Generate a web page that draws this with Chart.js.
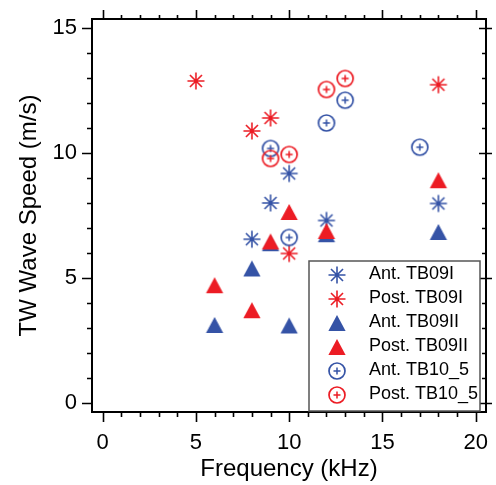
<!DOCTYPE html>
<html>
<head>
<meta charset="utf-8">
<script src="https://cdn.jsdelivr.net/npm/chart.js@4.4.0/dist/chart.umd.min.js"></script>
<style>
  html, body { margin: 0; padding: 0; background: #fff; }
  #wrap { width: 496px; height: 485px; }
</style>
</head>
<body>
<div id="wrap"><canvas id="speedChart" width="496" height="485"></canvas></div>
<script>
// tick labels
const xTicks = [0, 5, 10, 15, 20];
const yTicks = [0, 5, 10, 15];

// series names (legend order)
const seriesNames = ['Ant. TB09I', 'Post. TB09I', 'Ant. TB09II', 'Post. TB09II', 'Ant. TB10_5', 'Post. TB10_5'];

// values: frequency (kHz) and speed (m/s)
const freqAntTB09I = [8, 9, 10, 12, 18];
const speedAntTB09I = [6.56, 8.01, 9.19, 7.31, 7.99];
const freqPostTB09I = [5, 8, 9, 10, 18];
const speedPostTB09I = [12.89, 10.89, 11.41, 5.99, 12.74];
const freqAntTB09II = [6, 8, 9, 10, 12, 18];
const speedAntTB09II = [3.13, 5.39, 6.40, 3.11, 6.76, 6.85];
const freqPostTB09II = [6, 8, 9, 10, 12, 18];
const speedPostTB09II = [4.72, 3.72, 6.47, 7.65, 6.89, 8.92];
const freqAntTB10_5 = [9, 10, 12, 13, 17];
const speedAntTB10_5 = [10.19, 6.63, 11.21, 12.12, 10.24];
const freqPostTB10_5 = [9, 10, 12, 13];
const speedPostTB10_5 = [9.79, 9.95, 12.55, 12.99];

const BLUE = '#3553a6';
const RED = '#ec1c24';
const FONT = '"Liberation Sans", Arial, sans-serif';

function makeMarker(kind, color) {
    const c = document.createElement('canvas');
    c.width = 20;
    c.height = 20;
    const g = c.getContext('2d');
    g.strokeStyle = color;
    g.fillStyle = color;
    if (kind === 'star') {
        g.lineWidth = 1.6;
        g.beginPath();
        for (let i = 0; i < 4; i++) {
            const a = i * Math.PI / 4;
            const dx = Math.cos(a) * 8.5, dy = Math.sin(a) * 8.5;
            g.moveTo(10 - dx, 10 - dy);
            g.lineTo(10 + dx, 10 + dy);
        }
        g.stroke();
    } else if (kind === 'triangle') {
        g.beginPath();
        g.moveTo(10, 2);
        g.lineTo(18.6, 18);
        g.lineTo(1.4, 18);
        g.closePath();
        g.fill();
    } else {
        g.lineWidth = 1.7;
        g.beginPath();
        g.arc(10, 10, 8, 0, 2 * Math.PI);
        g.stroke();
        g.lineWidth = 1.5;
        g.beginPath();
        g.moveTo(10, 6.5); g.lineTo(10, 13.5);
        g.moveTo(6.5, 10); g.lineTo(13.5, 10);
        g.stroke();
    }
    return c;
}

const markers = [
    makeMarker('star', BLUE), makeMarker('star', RED),
    makeMarker('triangle', BLUE), makeMarker('triangle', RED),
    makeMarker('circle', BLUE), makeMarker('circle', RED)
];

const freqs = [freqAntTB09I, freqPostTB09I, freqAntTB09II, freqPostTB09II, freqAntTB10_5, freqPostTB10_5];
const speeds = [speedAntTB09I, speedPostTB09I, speedAntTB09II, speedPostTB09II, speedAntTB10_5, speedPostTB10_5];

const datasets = seriesNames.map((name, i) => ({
    label: name,
    data: freqs[i].map((f, j) => ({ x: f, y: speeds[i][j] })),
    pointStyle: markers[i],
    pointRadius: 9,
    showLine: false,
    order: seriesNames.length - i   // later series drawn on top
}));

// frame, igor-style ticks and boxed legend
const framePlugin = {
    id: 'frame',
    afterDraw(chart) {
        const ctx = chart.ctx;
        const a = chart.chartArea;
        const sx = chart.scales.x, sy = chart.scales.y;
        ctx.save();
        ctx.strokeStyle = '#000';
        ctx.lineWidth = 2;
        ctx.strokeRect(a.left, a.top, a.right - a.left, a.bottom - a.top);

        ctx.lineWidth = 1.6;
        ctx.beginPath();
        for (let v = 0; v <= 20; v++) {
            const major = xTicks.includes(v);
            const px = Math.round(sx.getPixelForValue(v)) + 0.5;
            ctx.moveTo(px, a.bottom); ctx.lineTo(px, a.bottom + (major ? 10 : 5));
            ctx.moveTo(px, a.top); ctx.lineTo(px, a.top - (major ? 9 : 4));
        }
        for (let v = 0; v <= 15; v++) {
            const major = yTicks.includes(v);
            const py = Math.round(sy.getPixelForValue(v)) + 0.5;
            ctx.moveTo(a.left, py); ctx.lineTo(a.left - (major ? 10 : 5), py);
            if (major) {
                ctx.moveTo(a.right - 7, py); ctx.lineTo(a.right + 6, py);
            } else {
                ctx.moveTo(a.right, py); ctx.lineTo(a.right - 4, py);
            }
        }
        ctx.stroke();

        // legend box
        const lx = 309, ly = 261, lw = a.right - 6 - lx, lh = a.bottom - 1 - ly;
        ctx.fillStyle = '#fff';
        ctx.fillRect(lx, ly, lw, lh);
        ctx.strokeStyle = '#555';
        ctx.lineWidth = 1.5;
        ctx.strokeRect(lx, ly, lw, lh);
        ctx.font = '18px ' + FONT;
        ctx.fillStyle = '#000';
        ctx.textBaseline = 'middle';
        ctx.textAlign = 'left';
        seriesNames.forEach((name, i) => {
            const cy = 275 + i * 24;
            ctx.drawImage(markers[i], 337 - 10, cy - 10);
            ctx.fillText(name, 369, cy - 1);
        });
        ctx.restore();
    }
};

function noPad(s) {
    s.paddingLeft = 0;
    s.paddingRight = 0;
    s.paddingTop = 0;
    s.paddingBottom = 0;
}

new Chart(document.getElementById('speedChart'), {
    type: 'scatter',
    data: { datasets: datasets },
    options: {
        responsive: false,
        animation: false,
        layout: { padding: { top: 19, right: 7, left: 0, bottom: 0 } },
        plugins: { legend: { display: false }, tooltip: { enabled: false } },
        scales: {
            x: {
                type: 'linear',
                min: -0.57,
                max: 20.55,
                afterBuildTicks: s => { s.ticks = xTicks.map(v => ({ value: v })); },
                afterFit: s => { s.height = 73; noPad(s); },
                grid: { display: false, drawTicks: false },
                border: { display: false },
                ticks: { color: '#000', font: { size: 22, family: FONT }, padding: 18, maxRotation: 0 },
                title: { display: true, text: 'Frequency (kHz)', color: '#000', font: { size: 24, family: FONT }, padding: { top: 0, bottom: 1 } }
            },
            y: {
                type: 'linear',
                min: -0.35,
                max: 15.37,
                afterBuildTicks: s => { s.ticks = yTicks.map(v => ({ value: v })); },
                afterFit: s => { s.width = 92; noPad(s); },
                grid: { display: false, drawTicks: false },
                border: { display: false },
                ticks: { color: '#000', font: { size: 22, family: FONT }, padding: 15 },
                title: { display: true, text: 'TW Wave Speed (m/s)', color: '#000', font: { size: 24, family: FONT }, padding: { top: 15, bottom: 0 } }
            }
        }
    },
    plugins: [framePlugin]
});
</script>
</body>
</html>
